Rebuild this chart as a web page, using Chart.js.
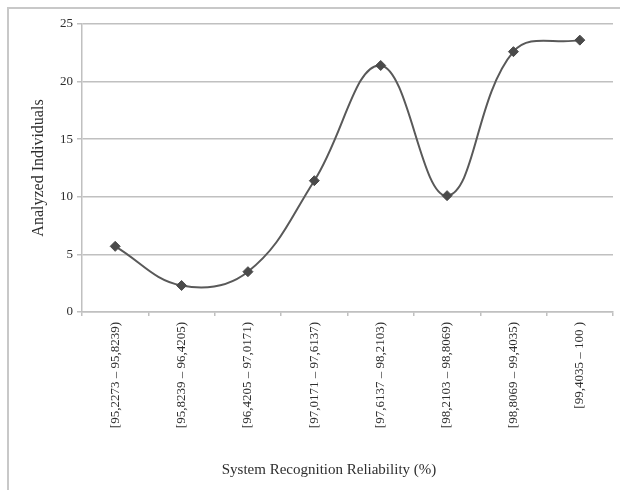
<!DOCTYPE html>
<html>
<head>
<meta charset="utf-8">
<script src="https://cdn.jsdelivr.net/npm/chart.js@4/dist/chart.umd.min.js"></script>
<style>
    html, body { margin: 0; padding: 0; background: #fff; }
    #wrap { position: relative; width: 620px; height: 490px; overflow: hidden; }
    #frame {
        position: absolute; left: 7px; top: 7px; width: 700px; height: 600px;
        border-top: 2px solid #c8c8c8; border-left: 2px solid #c8c8c8;
    }
    canvas { position: absolute; left: 0; top: 0; }
</style>
</head>
<body>
<div id="wrap">
    <div id="frame"></div>
    <canvas id="chart" width="620" height="490"></canvas>
</div>
<script>
/* ===== Data ===== */

var categories = [
    '[95,2273 \u2013 95,8239)',
    '[95,8239 \u2013 96,4205)',
    '[96,4205 \u2013 97,0171)',
    '[97,0171 \u2013 97,6137)',
    '[97,6137 \u2013 98,2103)',
    '[98,2103 \u2013 98,8069)',
    '[98,8069 \u2013 99,4035)',
    '[99,4035 \u2013 100 )',
];

var individuals = [5.7, 2.3, 3.5, 11.4, 21.4, 10.1, 22.6, 23.6];

var yTicks = [0, 5, 10, 15, 20, 25];

var xTitle = 'System Recognition Reliability (%)';
var yTitle = 'Analyzed Individuals';

/* ===== Chart ===== */

var gridColor = '#c0c0c0';
var textColor = '#2e2e2e';
var serif = 'Liberation Serif';

new Chart(document.getElementById('chart'), {
    type: 'line',
    data: {
        labels: categories,
        datasets: [{
            label: yTitle,
            data: individuals,
            borderColor: '#595959',
            borderWidth: 2,
            tension: 0.4,
            fill: false,
            pointStyle: 'rectRot',
            pointRadius: 5,
            pointBackgroundColor: '#4a4a4a',
            pointBorderColor: '#4a4a4a',
            pointBorderWidth: 1,
        }],
    },
    options: {
        responsive: false,
        animation: false,
        layout: { padding: { left: 45, right: 7, top: 24, bottom: 0 } },
        plugins: {
            legend: { display: false },
            tooltip: { enabled: false },
            title: {
                display: true,
                position: 'bottom',
                text: xTitle,
                color: textColor,
                font: { family: serif, size: 15, weight: 'normal' },
                padding: { top: 0, bottom: 11 },
            },
        },
        scales: {
            x: {
                offset: true,
                grid: {
                    offset: true,
                    drawOnChartArea: false,
                    drawTicks: true,
                    tickLength: 4,
                    color: gridColor,
                    lineWidth: 1.5,
                },
                border: { color: gridColor, width: 1.5 },
                ticks: {
                    autoSkip: false,
                    minRotation: 90,
                    maxRotation: 90,
                    padding: 6,
                    color: textColor,
                    font: { family: serif, size: 13 },
                },
                afterFit: function(scale) { scale.height = 149; },
            },
            y: {
                min: yTicks[0],
                max: yTicks[yTicks.length - 1],
                afterBuildTicks: function(scale) {
                    scale.ticks = yTicks.map(function(v) { return { value: v }; });
                },
                grid: {
                    color: gridColor,
                    lineWidth: 1.5,
                    tickLength: 5,
                },
                border: { color: gridColor, width: 1.5 },
                ticks: {
                    padding: 4,
                    color: textColor,
                    font: { family: serif, size: 13 },
                },
                title: {
                    display: true,
                    text: yTitle,
                    color: textColor,
                    font: { family: serif, size: 16 },
                    padding: { top: -16, bottom: 0 },
                },
                afterFit: function(scale) { scale.width = 37; },
            },
        },
    },
});
</script>
</body>
</html>
